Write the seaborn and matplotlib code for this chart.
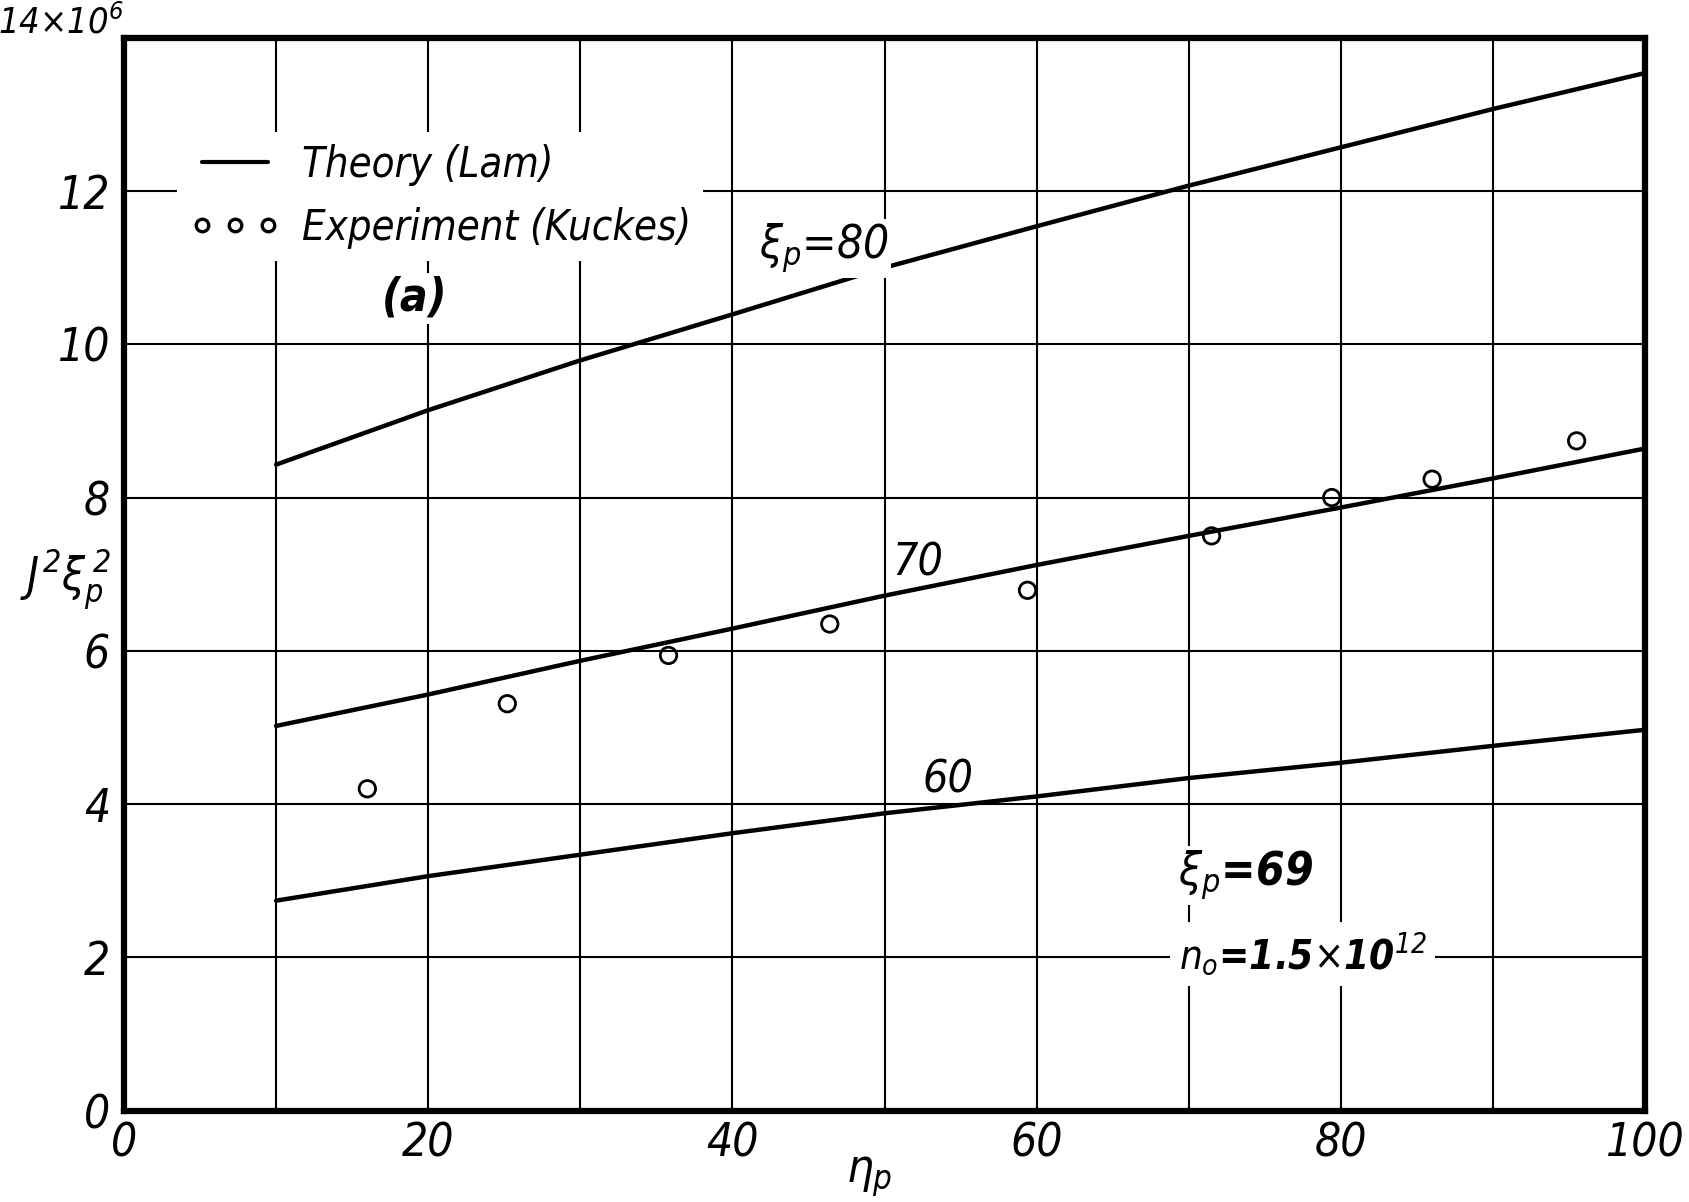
import numpy as np
import pandas as pd
import matplotlib
matplotlib.use("Agg")
import matplotlib.pyplot as plt
from matplotlib.lines import Line2D
import seaborn as sns

# ---------------- data (y in units of 10^6) ----------------
eta_theory = [10, 20, 30, 40, 50, 60, 70, 80, 90, 100]
theory_xi80 = [8.43, 9.14, 9.79, 10.39, 11.00, 11.54, 12.07, 12.57, 13.07, 13.54]
theory_xi70 = [5.02, 5.43, 5.87, 6.29, 6.72, 7.12, 7.50, 7.87, 8.25, 8.64]
theory_xi60 = [2.74, 3.06, 3.34, 3.62, 3.88, 4.10, 4.34, 4.54, 4.76, 4.97]

eta_exp = [16.0, 25.2, 35.8, 46.4, 59.4, 71.5, 79.4, 86.0, 95.5]
exp_vals = [4.20, 5.31, 5.94, 6.35, 6.79, 7.50, 8.00, 8.24, 8.74]

x_ticks = [0, 20, 40, 60, 80, 100]
x_ticklabels = ["0", "20", "40", "60", "80", "100"]
y_ticks = [0, 2, 4, 6, 8, 10, 12, 14]
y_ticklabels = ["0", "2", "4", "6", "8", "10", "12", ""]
y_top_label = r"14$\times$10$^6$"

legend_labels = ["Theory (Lam)", "Experiment (Kuckes)"]

# ---------------- style ----------------
sns.set_theme(style="white")
plt.rcParams["font.family"] = ["DejaVu Sans"]
plt.rcParams["font.stretch"] = "condensed"
plt.rcParams["font.style"] = "italic"
plt.rcParams["text.color"] = "black"
plt.rcParams["axes.labelcolor"] = "black"
plt.rcParams["mathtext.fontset"] = "dejavusans"

fig = plt.figure(figsize=(16.89, 12.02), dpi=100)
ax = fig.add_axes([0.0734, 0.0760, 0.9006, 0.8926])

df = pd.DataFrame({
    "eta": eta_theory * 3,
    "val": theory_xi80 + theory_xi70 + theory_xi60,
    "xi": ["80"] * 10 + ["70"] * 10 + ["60"] * 10,
})
sns.lineplot(data=df, x="eta", y="val", hue="xi",
             palette={"80": "black", "70": "black", "60": "black"},
             linewidth=3.2, legend=False, ax=ax, zorder=3)

sns.scatterplot(x=eta_exp, y=exp_vals, marker="o", s=140,
                facecolor="none", edgecolor="black", linewidth=2.0,
                ax=ax, zorder=4)

ax.set_xlim(0, 100)
ax.set_ylim(0, 14)
ax.set_xticks(x_ticks)
ax.set_xticklabels(x_ticklabels)
ax.set_yticks(y_ticks)
ax.set_yticklabels(y_ticklabels)
ax.set_xticks(np.arange(10, 100, 10), minor=True)

ax.grid(True, which="both", axis="x", color="black", linewidth=1.5)
ax.grid(True, which="major", axis="y", color="black", linewidth=1.5)
ax.set_axisbelow(True)

for sp in ax.spines.values():
    sp.set_visible(True)
    sp.set_color("black")
    sp.set_linewidth(4.5)

ax.tick_params(axis="both", which="major", direction="in", length=20, width=4,
               color="black", labelsize=33, labelcolor="black")
ax.tick_params(axis="x", which="major", pad=8)
ax.tick_params(axis="y", which="major", pad=10)
ax.tick_params(axis="x", which="minor", length=0)

ax.text(0.0, 1.004, y_top_label, transform=ax.transAxes, fontsize=26,
        ha="right", va="baseline")

ax.set_xlabel(r"$\eta_p$", fontsize=34)
ax.xaxis.set_label_coords(0.49, -0.040)
ax.set_ylabel(r"$J^2\xi_p^{\,2}$", fontsize=33, rotation=0, ha="right", va="center")
ax.yaxis.set_label_coords(-0.008, 0.495)

wb = dict(facecolor="white", edgecolor="none", pad=2)
ax.text(46.0, 11.25, r"$\xi_p$=80", fontsize=33, ha="center", va="center", bbox=wb, zorder=5)
ax.text(52.2, 7.15, "70", fontsize=32, ha="center", va="center", zorder=5)
ax.text(54.2, 4.32, "60", fontsize=32, ha="center", va="center", zorder=5)
ax.text(19.1, 10.6, "(a)", fontsize=33, fontweight="bold", ha="center", va="center", bbox=wb, zorder=5)
ax.text(73.7, 3.07, r"$\xi_p$=69", fontsize=33, fontweight="bold", ha="center", va="center", bbox=wb, zorder=5)
ax.text(77.5, 2.05, r"$n_o$=1.5$\times$10$^{12}$", fontsize=29, fontweight="bold",
        ha="center", va="center", bbox=dict(facecolor="white", edgecolor="none", pad=6), zorder=5)

handles = [Line2D([], [], color="black", linewidth=3.0),
           Line2D([], [], color="black", linestyle="none", marker="o", markersize=9,
                  markerfacecolor="none", markeredgewidth=2.4)]
leg = ax.legend(handles, legend_labels, loc="upper left", bbox_to_anchor=(0.021, 0.932),
                numpoints=3, handlelength=2.2, handletextpad=0.5, labelspacing=0.5,
                fontsize=30, frameon=True, facecolor="white", edgecolor="none",
                framealpha=1.0, borderpad=0.3, fancybox=False)
for t in leg.get_texts():
    t.set_color("black")
leg.set_zorder(6)

fig.savefig("out.png", dpi=100, facecolor="white")
